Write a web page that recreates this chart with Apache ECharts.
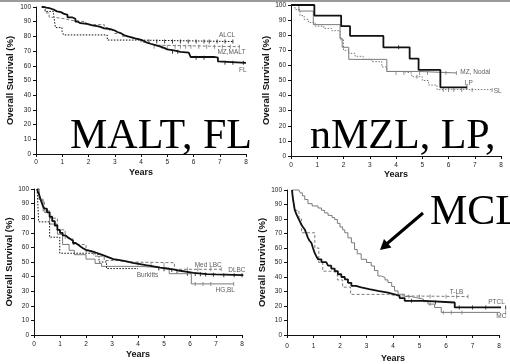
<!DOCTYPE html>
<html><head><meta charset="utf-8">
<script src="https://cdn.jsdelivr.net/npm/echarts@6/dist/echarts.min.js"></script>
<style>html,body{margin:0;padding:0;background:#fff}#c{width:510px;height:364px}</style>
</head><body><div id="c"></div>
<script>
// ---- data (years, overall survival %) ----
const yearTicks = [0,1,2,3,4,5,6,7,8];
const pctTicks = [0,10,20,30,40,50,60,70,80,90,100];

// Panel 1
const flCurve = [[0.22,100],[0.3,99.5],[0.4,99],[0.55,98],[0.7,97],[0.8,96.5],[0.95,95.5],[1.05,94.7],[1.2,93],[1.37,92],[1.5,90],[1.6,89],[1.69,88.5],[1.95,87.5],[2.15,87],[2.33,86.5],[2.45,85.5],[2.6,85],[2.84,84],[3.0,83],[3.1,82.3],[3.22,81.5],[3.3,80.5],[3.4,79.5],[3.6,78.5],[3.8,77.8],[3.98,77],[4.1,76],[4.2,75],[4.36,74],[4.55,73],[4.74,72],[4.9,71.2],[5.0,70.5],[5.25,69.5],[5.5,69],[5.82,68.5],[5.89,66],[6.78,65.5],[6.93,63],[7.0,62],[8.0,62]];
const alclCurve = [[0.22,100],[0.35,97],[0.67,95],[0.74,86],[0.99,83.5],[1.05,81],[2.71,81],[2.72,77.5],[3.9,77.5],[3.95,76.5],[7.5,76.5]];
const mzMaltCurve = [[0.22,100],[0.35,96],[0.5,93],[0.7,92],[1.1,91],[1.3,90],[1.9,88],[2.5,88],[2.6,86],[2.8,84],[3.0,82],[3.3,80],[3.5,79],[3.8,78],[4.0,76],[4.2,75],[4.4,74],[4.6,73],[7.75,73]];
const alclCensor = [[4.3,76.5],[4.6,76.5],[4.9,76.5],[5.2,76.5],[5.5,76.5],[5.8,76.5],[6.1,76.5],[6.4,76.5],[6.6,76.5],[6.9,76.5],[7.2,76.5],[7.5,76.5]];
const mzMaltCensor = [[4.5,73],[4.8,73],[5.0,73],[5.3,73],[5.5,73],[5.7,73],[5.9,73],[6.2,73],[6.5,73],[6.8,73],[7.1,73],[7.4,73],[7.75,73]];
const flCensor = [[5.2,69.5],[5.4,69.5],[6.1,65.5],[6.4,65.5],[7.2,62],[7.5,62],[7.9,62]];

// Panel 2
const lpCurve = [[0,100],[0.89,93],[1.91,86],[2.25,79.5],[3.52,72],[4.52,64.5],[4.86,57],[5.69,45.5],[6.7,45.5]];
const mzNodalCurve = [[0,100],[0.3,96],[0.85,87],[1.87,78],[1.95,72],[2.2,64],[3.65,56],[4.85,55],[6.3,55]];
const slCurve = [[0,100],[0.15,97],[0.34,93],[0.5,90.5],[0.66,88.5],[0.92,86],[1.25,84.5],[1.55,83],[1.87,77],[2.0,70],[2.2,68],[2.44,66],[2.75,64],[3.08,62.5],[3.46,59],[3.65,56],[4.22,55],[4.6,52.5],[5.0,50],[5.24,47],[5.56,44],[7.66,43.7]];
const lpCensor = [[4.1,72],[6.7,45.5]];
const mzNodalCensor = [[4.9,55],[5.2,55],[5.9,55],[6.3,55]];
const slCensor = [[4.0,55],[4.3,55],[4.8,52.5],[5.8,43.7],[6.0,43.7],[6.2,43.7],[6.5,43.7],[6.9,43.7],[7.66,43.7]];

// Panel 3
const dlbcCurve = [[0.12,100],[0.15,98],[0.2,96],[0.25,93],[0.3,90.5],[0.35,88],[0.4,86.5],[0.5,84],[0.6,81],[0.7,78],[0.8,75],[0.9,72],[1.0,70],[1.1,68.3],[1.2,67],[1.3,65.8],[1.4,64.5],[1.5,63],[1.6,61.8],[1.7,60.5],[1.8,59.3],[1.9,58.3],[2.0,57.5],[2.2,57],[2.3,56],[2.45,55],[2.6,54],[2.75,53],[2.9,52],[3.05,51.3],[3.3,50.5],[3.56,49.4],[3.8,48.5],[4.08,47.8],[4.3,47],[4.59,46.2],[4.85,45.5],[5.1,44.9],[5.35,44],[5.62,43.3],[5.9,42.5],[6.13,41.7],[6.65,41.5],[7.0,41.2],[7.68,41],[8.05,41]];
const medLbcCurve = [[0.12,100],[0.2,92],[0.4,84],[0.6,80],[0.9,72],[1.2,66],[1.5,62],[2.0,57],[2.3,54],[2.7,51],[3.2,50],[3.6,49.5],[5.4,45],[7.2,45]];
const burkittsCurve = [[0.12,100],[0.18,77.5],[0.6,67],[0.99,56],[2.28,55],[2.5,50],[2.79,45.5],[4.0,45.5]];
const hgBlCurve = [[0.12,100],[0.2,93],[0.35,85],[0.6,76],[0.9,69],[1.1,62],[1.35,58],[1.55,55],[2.0,52],[2.35,49],[2.6,47],[4.0,46],[5.2,42],[6.05,35],[7.68,35]];
const dlbcCensor = [[4.8,45.5],[5.0,45],[5.3,44.5],[5.5,43.5],[5.9,42],[6.2,41.7],[6.4,41.6],[6.6,41.5],[6.9,41.2],[7.3,41],[7.7,41],[8.0,41]];
const medLbcCensor = [[4.0,49],[4.5,48.5],[5.0,48],[5.9,45],[6.3,45],[6.8,45],[7.2,45]];
const hgBlCensor = [[6.2,35],[6.5,35],[6.8,35],[7.68,35]];

// Panel 4
const ptclCurve = [[0.19,100],[0.21,96],[0.23,93.4],[0.26,90],[0.29,86.5],[0.35,83.5],[0.42,80.8],[0.48,78.5],[0.54,76.2],[0.6,74.5],[0.67,72.8],[0.73,70],[0.79,67],[0.85,65],[0.92,63.6],[0.98,60],[1.04,56.8],[1.1,54.5],[1.17,52.2],[1.3,50.3],[1.48,49.5],[1.55,47.8],[1.67,45.8],[1.8,44],[1.92,41.9],[2.05,40],[2.18,38.4],[2.3,36],[2.43,33.9],[2.6,32.8],[2.8,31.6],[3.1,30.5],[3.43,29.3],[3.81,28.1],[4.06,27],[4.25,25.5],[4.44,23.6],[5.2,22.4],[6.33,19],[8.25,19]];
const mcCurve = [[0.19,100],[0.45,100],[0.5,98],[0.58,96],[0.67,93.4],[0.79,90.6],[0.95,89],[1.17,87.6],[1.3,86],[1.42,84.2],[1.55,82.5],[1.7,81],[1.8,79.6],[1.9,77],[2.0,74.5],[2.1,72.5],[2.18,70.5],[2.3,67],[2.43,63.6],[2.55,59],[2.65,56],[2.8,52.2],[3.0,50],[3.18,47.6],[3.3,44.5],[3.43,40.7],[3.56,39.6],[3.7,38],[3.81,36.2],[3.95,33.5],[4.06,30.4],[4.19,28.1],[4.44,26.5],[4.7,25.5],[4.94,24.7],[5.15,23],[5.32,21.3],[5.57,19],[5.82,15.6],[8.25,15.6]];
const tlbCurve = [[0.19,100],[0.23,93],[0.3,86],[0.45,80],[0.55,70.5],[0.95,70.5],[1.05,60],[1.2,50],[1.35,44],[1.7,43],[1.9,38],[2.1,33],[2.4,28],[3.8,27],[4.2,26.5],[6.83,26.5]];
const tlbCensor = [[4.6,26.5],[5.0,26.5],[5.4,26.5],[6.0,26.5],[6.4,26.5],[6.83,26.5]];
const ptclCensor = [[4.7,23.6],[5.6,22.4],[6.5,19],[7.0,19],[7.5,19],[8.25,19]];
const mcCensor = [[5.4,21.3],[5.9,15.6],[6.2,15.6],[6.6,15.6],[8.25,15.6]];

// curve names
const panel1Names = ['ALCL','MZ,MALT','FL'];
const panel2Names = ['MZ, Nodal','LP','SL'];
const panel3Names = ['Med LBC','DLBC','Burkitts','HG,BL'];
const panel4Names = ['T-LB','PTCL','MC'];
const overlayTexts = ['MALT, FL','nMZL, LP,','MCL'];
const yName = 'Overall Survival (%)';
const xName = 'Years';

// ---- chart ----
const BLACK = '#111', GRAY = '#7a7a7a';
const grids = [
  {left:36, top:7, width:210, height:147},
  {left:291, top:5, width:210, height:151},
  {left:34, top:189, width:208, height:146},
  {left:287, top:190, width:212, height:146}
];
const yGaps = [21, 18, 16, 17];
const xGaps = [14, 14, 15, 19];
const xMargins = [5, 6, 6, 8];

function xAx(i){return {gridIndex:i,type:'value',min:0,max:8,interval:1,
  name:xName,nameLocation:'middle',nameGap:xGaps[i],
  nameTextStyle:{fontFamily:'Liberation Sans',fontWeight:'bold',fontSize:9,color:'#111'},
  axisLine:{lineStyle:{color:'#111',width:1}},axisTick:{length:3,lineStyle:{color:'#111'}},
  axisLabel:{fontFamily:'Liberation Sans',fontSize:6.5,color:'#222',margin:xMargins[i]},
  splitLine:{show:false}};}
function yAx(i){return {gridIndex:i,type:'value',min:0,max:100,interval:10,
  name:yName,nameLocation:'middle',nameGap:yGaps[i],nameRotate:90,
  nameTextStyle:{fontFamily:'Liberation Sans',fontWeight:'bold',fontSize:9.5,color:'#111'},
  axisLine:{show:true,lineStyle:{color:'#111',width:1}},axisTick:{show:true,length:3,lineStyle:{color:'#111'}},
  axisLabel:{fontFamily:'Liberation Sans',fontSize:6.5,color:'#222',margin:5},
  splitLine:{show:false}};}

function curve(i,data,color,width,type){
  return {type:'line',xAxisIndex:i,yAxisIndex:i,data:data,step:'end',showSymbol:false,
    clip:false,silent:true,lineStyle:{color:color,width:width,type:type}};
}
function censor(i,data,color){
  return {type:'scatter',xAxisIndex:i,yAxisIndex:i,data:data,symbol:'rect',symbolSize:[1,4],
    clip:false,silent:true,itemStyle:{color:color}};
}
function labels(i,names,pos){
  return {type:'scatter',xAxisIndex:i,yAxisIndex:i,symbolSize:0,clip:false,silent:true,
    data:names.map((n,k)=>({name:n,value:pos[k]})),
    label:{show:true,position:'right',distance:0,formatter:p=>p.name,
      fontFamily:'Liberation Sans',fontSize:6.5,color:'#333'}};
}

const series = [
  curve(0,alclCurve,BLACK,1,[1.5,1.5]),
  curve(0,mzMaltCurve,GRAY,1,[3,2]),
  curve(0,flCurve,BLACK,1.8,'solid'),
  censor(0,alclCensor,BLACK), censor(0,mzMaltCensor,GRAY), censor(0,flCensor,BLACK),
  labels(0,panel1Names,[[6.97,80.6],[6.91,69],[7.73,56.7]]),

  curve(1,slCurve,GRAY,1,[1.5,1.5]),
  curve(1,mzNodalCurve,GRAY,1,'solid'),
  curve(1,lpCurve,BLACK,1.8,'solid'),
  censor(1,slCensor,GRAY), censor(1,mzNodalCensor,GRAY), censor(1,lpCensor,BLACK),
  labels(1,panel2Names,[[6.45,55.2],[6.62,48.1],[7.72,43.2]]),

  curve(2,hgBlCurve,GRAY,1,'solid'),
  curve(2,medLbcCurve,GRAY,1,[3,2]),
  curve(2,burkittsCurve,BLACK,1,[1.5,1.5]),
  curve(2,dlbcCurve,BLACK,1.8,'solid'),
  censor(2,hgBlCensor,GRAY), censor(2,medLbcCensor,GRAY), censor(2,dlbcCensor,BLACK),
  labels(2,panel3Names,[[6.18,48],[7.47,44.4],[3.95,41],[6.98,30.8]]),

  curve(3,mcCurve,GRAY,1,'solid'),
  curve(3,tlbCurve,GRAY,1,[3,2]),
  curve(3,ptclCurve,BLACK,1.8,'solid'),
  censor(3,mcCensor,GRAY), censor(3,tlbCensor,GRAY), censor(3,ptclCensor,BLACK),
  labels(3,panel4Names,[[6.14,29.3],[7.59,22.4],[7.9,12.8]])
];

const serif = {fontFamily:'Liberation Serif',fontSize:42,fill:'#000',verticalAlign:'middle',align:'left'};
const chart = echarts.init(document.getElementById('c'),null,{renderer:'canvas'});
chart.setOption({
  animation:false,
  backgroundColor:'#fff',
  grid:grids,
  xAxis:[0,1,2,3].map(xAx),
  yAxis:[0,1,2,3].map(yAx),
  series:series,
  graphic:[
    {type:'rect',shape:{x:0,y:0,width:510,height:2},style:{fill:'#9a9a9a'},z:100},
    {type:'text',x:70,y:137,style:Object.assign({text:overlayTexts[0]},serif),z:100},
    {type:'text',x:310,y:137,style:Object.assign({text:overlayTexts[1]},serif),z:100},
    {type:'text',x:430,y:213,style:Object.assign({text:overlayTexts[2]},serif),z:100},
    {type:'line',shape:{x1:423,y1:213,x2:386,y2:244.5},style:{stroke:'#000',lineWidth:3},z:100},
    {type:'polygon',shape:{points:[[380,250],[391.5,247.5],[384,239]]},style:{fill:'#000'},z:100}
  ]
});
</script></body></html>
